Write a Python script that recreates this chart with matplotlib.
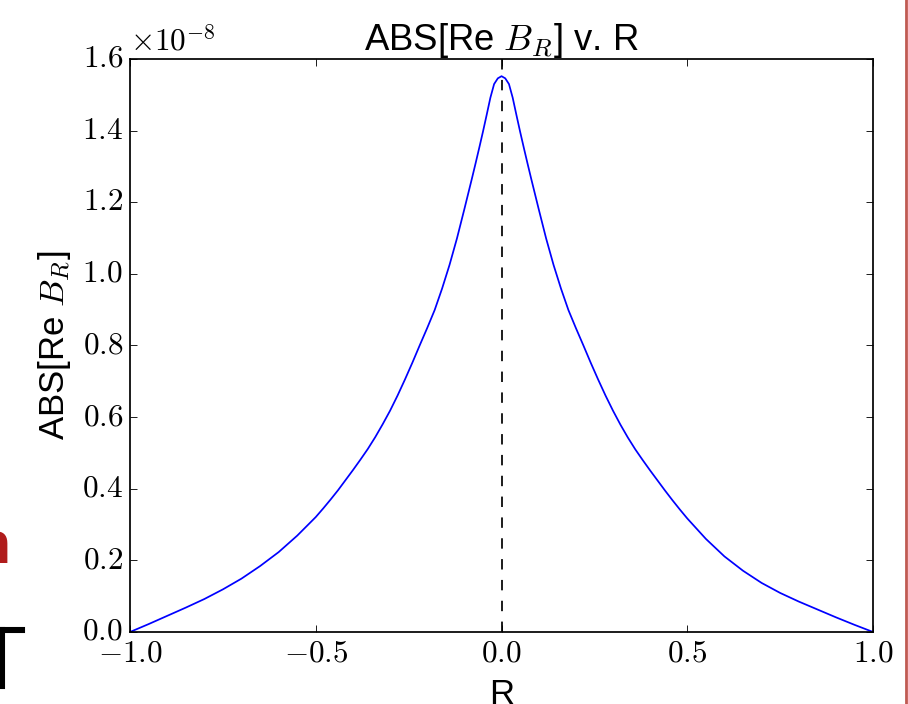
import numpy as np
import matplotlib
matplotlib.use("Agg")
import matplotlib.pyplot as plt
from matplotlib.ticker import FuncFormatter
from matplotlib.lines import Line2D

plt.style.use('classic')
plt.rcParams['mathtext.fontset'] = 'cm'
plt.rcParams['font.family'] = ['Liberation Sans', 'DejaVu Sans']

# values, in units of 1e-8
R_left = [-1.00, -0.95, -0.90, -0.85, -0.80, -0.75, -0.70, -0.65, -0.60, -0.55,
          -0.50, -0.48, -0.46, -0.44, -0.42, -0.40, -0.38, -0.36, -0.34, -0.32,
          -0.30, -0.28, -0.26, -0.24, -0.22, -0.20, -0.18, -0.16, -0.14, -0.12,
          -0.10, -0.09, -0.08, -0.07, -0.06, -0.05, -0.04, -0.03, -0.02, -0.01]
v_left = [0.000, 0.022, 0.045, 0.068, 0.092, 0.119, 0.149, 0.184, 0.223, 0.269,
          0.321, 0.345, 0.370, 0.396, 0.424, 0.452, 0.481, 0.511, 0.544, 0.580,
          0.618, 0.660, 0.705, 0.752, 0.801, 0.849, 0.899, 0.959, 1.025, 1.099,
          1.181, 1.223, 1.265, 1.308, 1.352, 1.397, 1.444, 1.492, 1.530, 1.546]
R_mid = [0.00]
v_mid = [1.552]
R_right = [0.01, 0.02, 0.03, 0.04, 0.05, 0.06, 0.07, 0.08, 0.09, 0.10,
           0.12, 0.14, 0.16, 0.18, 0.20, 0.22, 0.24, 0.26, 0.28, 0.30,
           0.32, 0.34, 0.36, 0.38, 0.40, 0.42, 0.44, 0.46, 0.48, 0.50,
           0.55, 0.60, 0.65, 0.70, 0.75, 0.80, 0.85, 0.90, 0.95, 1.00]
v_right = [1.546, 1.530, 1.492, 1.444, 1.397, 1.352, 1.308, 1.265, 1.223, 1.181,
           1.099, 1.025, 0.959, 0.899, 0.849, 0.801, 0.752, 0.705, 0.660, 0.618,
           0.579, 0.543, 0.510, 0.480, 0.451, 0.423, 0.395, 0.368, 0.342, 0.317,
           0.260, 0.211, 0.171, 0.137, 0.109, 0.085, 0.063, 0.041, 0.020, 0.000]
scale = 1e-8

xticks = [-1.0, -0.5, 0.0, 0.5, 1.0]
yticks = [0.0, 0.2, 0.4, 0.6, 0.8, 1.0, 1.2, 1.4, 1.6]

R = np.array(R_left + R_mid + R_right)
absReB = np.array(v_left + v_mid + v_right)*scale

fig = plt.figure(figsize=(9.08/1.25, 7.04/1.25), dpi=125, facecolor='white')
ax = fig.add_axes([0.1432, 0.1023, 0.8183, 0.8139])

ax.plot(R, absReB, 'b-')
ax.axvline(0.0, color='k', ls='--')

ax.set_xlim(-1, 1)
ax.set_ylim(0, 1.6*scale)
ax.set_xticks(xticks)
ax.set_yticks([t*scale for t in yticks])
ax.xaxis.set_major_formatter(FuncFormatter(lambda v, p: r'$%.1f$' % v))
ax.yaxis.set_major_formatter(FuncFormatter(lambda v, p: r'$%.1f$' % (v/scale)))
ax.tick_params(labelsize=18)
ax.text(0.0, 1.002, r'$\times10^{-8}$', transform=ax.transAxes,
        ha='left', va='bottom', fontsize=18)

ax.set_title(r'ABS[Re $B_R$] v. R', fontsize=21)
ax.set_xlabel('R', fontsize=20)
ax.set_ylabel(r'ABS[Re $B_R$]', fontsize=20)

# bits of the slide behind the figure
fig.text(-0.0275, 0.2, 'n', color='#b01c1c', fontsize=34, fontweight='bold',
         ha='left', va='baseline')
fig.add_artist(Line2D([0.0, 0.024], [0.105, 0.105], color='k', lw=3.5,
                      transform=fig.transFigure))
fig.add_artist(Line2D([0.002, 0.002], [0.105, 0.025], color='k', lw=3.5,
                      transform=fig.transFigure))
fig.add_artist(Line2D([0.9975, 0.9975], [0.0, 1.0], color='#c05a52', lw=1.6,
                      transform=fig.transFigure))

fig.savefig('out.png', dpi=125, facecolor='white')
